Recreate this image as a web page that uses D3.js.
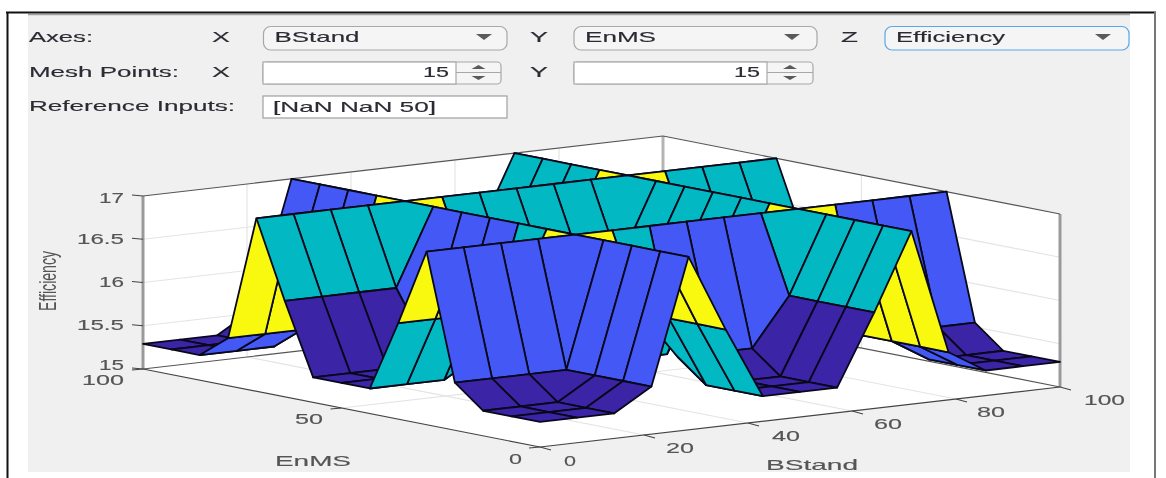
<!DOCTYPE html>
<html lang="en">
<head>
<meta charset="utf-8">
<title>Surface viewer - Efficiency</title>
<script src="https://d3js.org/d3.v7.min.js"></script>
<style type="text/css">
    body { margin: 0; background: #fff; }
    svg { display: block; filter: blur(0.55px); }
    text { font-family: "Liberation Sans", Arial, sans-serif; stroke-width: 0.15px; }
</style>
</head>
<body>
<script type="text/javascript">
// Data
const meshX = [0, 7.14, 14.29, 21.43, 28.57, 35.71, 42.86, 50, 57.14, 64.29, 71.43, 78.57, 85.71, 92.86, 100];
const meshY = [0, 7.14, 14.29, 21.43, 28.57, 35.71, 42.86, 50, 57.14, 64.29, 71.43, 78.57, 85.71, 92.86, 100];

// one row per meshY value, one column per meshX value
const efficiency = [
    [15.29, 15.29, 15.29, 15.55, 17, 16.11, 15.29, 15.29, 15.29, 16.11, 17, 15.55, 15.29, 15.29, 15.29],
    [15.29, 15.29, 15.29, 15.55, 17, 16.11, 15.29, 15.29, 15.29, 16.11, 17, 15.55, 15.29, 15.29, 15.29],
    [15.29, 15.29, 15.29, 15.55, 17, 16.11, 15.29, 15.29, 15.29, 16.11, 17, 15.55, 15.29, 15.29, 15.29],
    [15.55, 15.55, 15.55, 15.55, 17, 16.11, 15.55, 15.55, 15.55, 16.11, 17, 15.55, 15.55, 15.55, 15.55],
    [17, 17, 17, 17, 17, 17, 17, 17, 17, 17, 17, 17, 17, 17, 17],
    [16.11, 16.11, 16.11, 16.11, 17, 16.11, 16.11, 16.11, 16.11, 16.11, 17, 16.11, 16.11, 16.11, 16.11],
    [15.29, 15.29, 15.29, 15.55, 17, 16.11, 15.29, 15.29, 15.29, 16.11, 17, 15.55, 15.29, 15.29, 15.29],
    [15.29, 15.29, 15.29, 15.55, 17, 16.11, 15.29, 15.29, 15.29, 16.11, 17, 15.55, 15.29, 15.29, 15.29],
    [15.29, 15.29, 15.29, 15.55, 17, 16.11, 15.29, 15.29, 15.29, 16.11, 17, 15.55, 15.29, 15.29, 15.29],
    [16.11, 16.11, 16.11, 16.11, 17, 16.11, 16.11, 16.11, 16.11, 16.11, 17, 16.11, 16.11, 16.11, 16.11],
    [17, 17, 17, 17, 17, 17, 17, 17, 17, 17, 17, 17, 17, 17, 17],
    [15.55, 15.55, 15.55, 15.55, 17, 16.11, 15.55, 15.55, 15.55, 16.11, 17, 15.55, 15.55, 15.55, 15.55],
    [15.29, 15.29, 15.29, 15.55, 17, 16.11, 15.29, 15.29, 15.29, 16.11, 17, 15.55, 15.29, 15.29, 15.29],
    [15.29, 15.29, 15.29, 15.55, 17, 16.11, 15.29, 15.29, 15.29, 16.11, 17, 15.55, 15.29, 15.29, 15.29],
    [15.29, 15.29, 15.29, 15.55, 17, 16.11, 15.29, 15.29, 15.29, 16.11, 17, 15.55, 15.29, 15.29, 15.29]
];

const xTicks = [0, 20, 40, 60, 80, 100];
const yTicks = [0, 50, 100];
const zTicks = [15, 15.5, 16, 16.5, 17];
const zTickLabels = ["15", "15.5", "16", "16.5", "17"];

const w = 1166;
const h = 478;

const svg = d3.select("body")
    .append("svg")
    .attr("width", w)
    .attr("height", h);

//Scales - the view is an oblique one, so each data axis moves both ways on screen
const originX = 540;
const originY = 447;
const xAcross = d3.scaleLinear().domain([0, 100]).range([0, 520]);
const xRise = d3.scaleLinear().domain([0, 100]).range([0, -60]);
const yAcross = d3.scaleLinear().domain([0, 100]).range([0, -397]);
const yRise = d3.scaleLinear().domain([0, 100]).range([0, -78]);
const zRise = d3.scaleLinear().domain([15, 17]).range([0, -173]);

const colour = d3.scaleThreshold()
    .domain([15.4, 15.8, 16.5])
    .range(["#3b24a6", "#4458f6", "#02b8c3", "#f8f90f"]);

function project(x, y, z) {
    return [originX + xAcross(x) + yAcross(y), originY + xRise(x) + yRise(y) + zRise(z)];
}

function seg(a, b, stroke, width) {
    svg.append("line")
        .attr("x1", a[0]).attr("y1", a[1])
        .attr("x2", b[0]).attr("y2", b[1])
        .attr("stroke", stroke)
        .attr("stroke-width", width);
}

// stretched text, the screenshot is wider than it should be
function label(str, x, y, width, anchor, fill, size) {
    svg.append("text")
        .attr("x", x)
        .attr("y", y)
        .attr("text-anchor", anchor || "start")
        .attr("textLength", width)
        .attr("lengthAdjust", "spacingAndGlyphs")
        .attr("font-size", size || 15)
        .attr("fill", fill || "#2b2b33")
        .attr("stroke", fill || "#2b2b33")
        .text(str);
}

//Page frame and panel
svg.append("rect").attr("x", 28).attr("y", 14).attr("width", 1102).attr("height", 458).attr("fill", "#f0f0f0");
seg([28, 14.5], [1130, 14.5], "#a0a0a0", 1.5);
seg([6, 12.5], [1156, 12.5], "#111", 2);
seg([7.5, 12], [7.5, 478], "#111", 2);
seg([1155, 12], [1155, 478], "#777", 2);

//Controls
function dropdown(x, x2, text, textWidth, arrowX, stroke) {
    svg.append("rect").attr("x", x).attr("y", 26.5).attr("width", x2 - x).attr("height", 23.5).attr("rx", 7)
        .attr("fill", "#f5f5f5").attr("stroke", stroke || "#a8a8a8").attr("stroke-width", 1.2);
    label(text, x + 11, 42, textWidth);
    svg.append("path")
        .attr("d", d3.line()([[arrowX - 8, 34], [arrowX + 8, 34], [arrowX, 40]]))
        .attr("fill", "#5a5a5a");
}

function spinner(x, x2, x3, text) {
    svg.append("rect").attr("x", x).attr("y", 62).attr("width", x3 - x).attr("height", 22).attr("rx", 4)
        .attr("fill", "#f5f5f5").attr("stroke", "#a8a8a8").attr("stroke-width", 1.2);
    svg.append("rect").attr("x", x).attr("y", 62).attr("width", x2 - x).attr("height", 22)
        .attr("fill", "#fff").attr("stroke", "#a8a8a8").attr("stroke-width", 1.2);
    seg([x2, 72.5], [x3, 72.5], "#a8a8a8", 1);
    const mid = (x2 + x3) / 2;
    svg.append("path").attr("d", d3.line()([[mid - 7, 69], [mid + 7, 69], [mid, 65]])).attr("fill", "#5a5a5a");
    svg.append("path").attr("d", d3.line()([[mid - 7, 76], [mid + 7, 76], [mid, 80]])).attr("fill", "#5a5a5a");
    label(text, x2 - 7, 77, 26, "end");
}

label("Axes:", 29, 42, 64);
label("X", 212, 42, 18);
dropdown(263.5, 507, "BStand", 85, 484);
label("Y", 530, 42, 18);
dropdown(574, 817, "EnMS", 71, 792);
label("Z", 841, 42, 17);
dropdown(885, 1129, "Efficiency", 109, 1103, "#5aa7e6");

label("Mesh Points:", 29, 77, 150);
label("X", 212, 77, 18);
spinner(263, 456, 501, "15");
label("Y", 530, 77, 18);
spinner(574, 767, 813, "15");

label("Reference Inputs:", 29, 111, 206);
svg.append("rect").attr("x", 263).attr("y", 96).attr("width", 244).attr("height", 22)
    .attr("fill", "#fff").attr("stroke", "#a0a0a0").attr("stroke-width", 1.2);
label("[NaN NaN 50]", 273, 112, 163);

//Axes box
function quad(pts, fill) {
    svg.append("path").attr("d", d3.line().curve(d3.curveLinearClosed)(pts)).attr("fill", fill);
}
quad([project(0, 0, 15), project(100, 0, 15), project(100, 100, 15), project(0, 100, 15)], "#fff");
quad([project(0, 100, 15), project(100, 100, 15), project(100, 100, 17), project(0, 100, 17)], "#fff");
quad([project(100, 0, 15), project(100, 100, 15), project(100, 100, 17), project(100, 0, 17)], "#fff");

//Grid lines
const gridColour = "#e4e4e4";
xTicks.slice(1, -1).forEach(t => {
    seg(project(t, 0, 15), project(t, 100, 15), gridColour, 1.2);
    seg(project(t, 100, 15), project(t, 100, 17), gridColour, 1.2);
});
yTicks.slice(1, -1).forEach(t => {
    seg(project(0, t, 15), project(100, t, 15), gridColour, 1.2);
    seg(project(100, t, 15), project(100, t, 17), gridColour, 1.2);
});
zTicks.slice(1, -1).forEach(t => {
    seg(project(0, 100, t), project(100, 100, t), gridColour, 1.2);
    seg(project(100, 100, t), project(100, 0, t), gridColour, 1.2);
});

//Box edges
seg(project(0, 100, 15), project(0, 100, 17), "#9a9a9a", 3);
seg(project(100, 100, 15), project(100, 100, 17), "#b4b4b4", 3);
seg(project(100, 0, 15), project(100, 0, 17), "#9a9a9a", 3);
seg(project(0, 100, 17), project(100, 100, 17), "#555", 1.2);
seg(project(100, 100, 17), project(100, 0, 17), "#555", 1.2);
seg(project(0, 100, 15), project(100, 100, 15), "#555", 1.2);
seg(project(100, 100, 15), project(100, 0, 15), "#555", 1.2);
seg(project(0, 100, 15), project(0, 0, 15), "#444", 1.2);
seg(project(0, 0, 15), project(100, 0, 15), "#444", 1.2);

//Tick marks
xTicks.forEach(t => {
    const p = project(t, 0, 15);
    seg(p, [p[0] + 11, p[1] + 3], "#444", 1.1);
});
yTicks.forEach(t => {
    const p = project(0, t, 15);
    seg(p, [p[0] - 11, p[1] + 1], "#444", 1.1);
});
zTicks.forEach(t => {
    const p = project(0, 100, t);
    seg(p, [p[0] - 11, p[1] - 1], "#444", 1.1);
});

//Surface: back corner first so the nearer faces paint over
const faces = [];
for (let j = meshY.length - 2; j >= 0; j--) {
    for (let i = meshX.length - 2; i >= 0; i--) {
        faces.push({
            z: efficiency[j][i],
            pts: [
                project(meshX[i], meshY[j], efficiency[j][i]),
                project(meshX[i + 1], meshY[j], efficiency[j][i + 1]),
                project(meshX[i + 1], meshY[j + 1], efficiency[j + 1][i + 1]),
                project(meshX[i], meshY[j + 1], efficiency[j + 1][i])
            ]
        });
    }
}

svg.selectAll(".face")
    .data(faces)
    .enter()
    .append("path")
    .attr("class", "face")
    .attr("d", d => d3.line().curve(d3.curveLinearClosed)(d.pts))
    .attr("fill", d => colour(d.z))
    .attr("stroke", "#08081a")
    .attr("stroke-width", 1.8)
    .attr("stroke-linejoin", "round");

//Tick labels
const tickGrey = "#555";
zTicks.forEach((t, k) => {
    const p = project(0, 100, t);
    const up = t === 15 ? 1 : t === 17 ? 7 : t === 16.5 ? 5 : 4;
    label(zTickLabels[k], 124, p[1] + up, zTickLabels[k].length > 2 ? 47 : 25, "end", tickGrey, t === 15 ? 14 : 15);
});
label("100", 124, 385, 42, "end", tickGrey, 14);
label("50", 323, 424, 28, "end", tickGrey);
label("0", 522, 464, 13, "end", tickGrey);

label("0", 564, 466, 12, "start", tickGrey);
label("20", 666, 453, 28, "start", tickGrey);
label("40", 772, 441, 28, "start", tickGrey);
label("60", 874, 429, 28, "start", tickGrey);
label("80", 977, 417, 28, "start", tickGrey);
label("100", 1084, 405, 41, "start", tickGrey);

//Axis labels
label("EnMS", 275, 466, 76, "start", tickGrey);
label("BStand", 766, 470, 92, "start", tickGrey);
svg.append("text")
    .attr("transform", "translate(56,281) scale(1.65,1) rotate(-90)")
    .attr("text-anchor", "middle")
    .attr("font-size", 15)
    .attr("textLength", 60)
    .attr("lengthAdjust", "spacingAndGlyphs")
    .attr("fill", tickGrey)
    .text("Efficiency");
</script>
</body>
</html>
